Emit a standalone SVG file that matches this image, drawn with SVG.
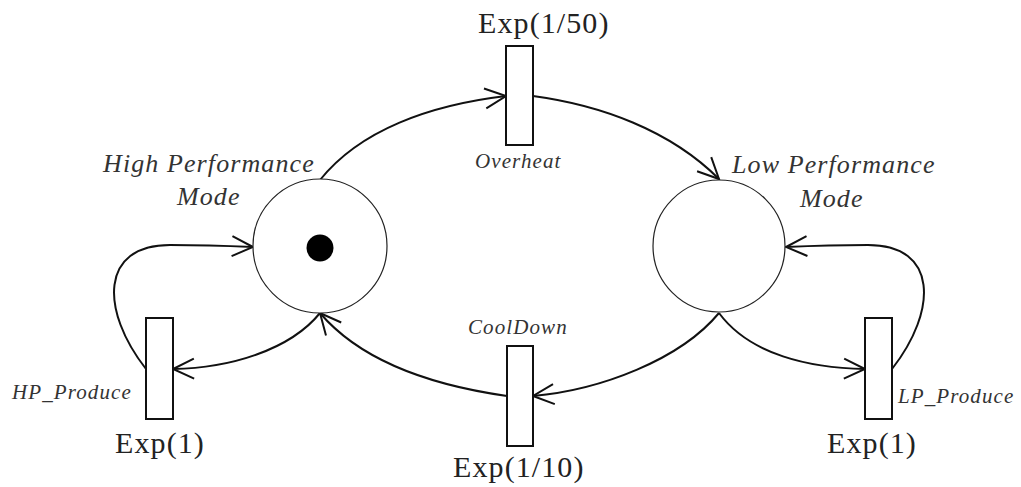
<svg xmlns="http://www.w3.org/2000/svg" width="1021" height="487" viewBox="0 0 1021 487">
<style>
.place{fill:#fff;stroke:#222;stroke-width:1.2}
.trans{fill:#fff;stroke:#111;stroke-width:2}
.arc{fill:none;stroke:#111;stroke-width:2}
.big{font-family:"Liberation Serif",serif;font-size:30px;fill:#222;letter-spacing:1.1px}
.pl{font-family:"Liberation Serif",serif;font-style:italic;font-size:26px;fill:#333;letter-spacing:1.1px}
.tl{font-family:"Liberation Serif",serif;font-style:italic;font-size:21px;fill:#333;letter-spacing:1.1px}
</style>
<defs>
<marker id="arr" markerUnits="userSpaceOnUse" markerWidth="26" markerHeight="24" refX="21" refY="10" orient="auto" viewBox="-2 -2 26 24">
<path d="M0,0 L21,10 L0,20" fill="none" stroke="#111" stroke-width="2"/>
</marker>
</defs>
<g id="connectors">
<path class="arc" d="M320,180 C360,130 430,105 506,96" marker-end="url(#arr)"/>
<path class="arc" d="M533,96 C600,105 670,130 719,179" marker-end="url(#arr)"/>
<path class="arc" d="M719,313 C680,360 600,390 533,396" marker-end="url(#arr)"/>
<path class="arc" d="M507,396 C430,385 360,360 320,313" marker-end="url(#arr)"/>
<path class="arc" d="M320,313 C290,350 230,368 173,369" marker-end="url(#arr)"/>
<path class="arc" d="M146,369 C100,310 100,245 170,245 C200,245 230,246 253,247" marker-end="url(#arr)"/>
<path class="arc" d="M719,313 C750,355 810,368 865,369" marker-end="url(#arr)"/>
<path class="arc" d="M892,369 C938,310 938,245 868,245 C838,245 808,246 786,247" marker-end="url(#arr)"/>
</g>
<g id="HighPerformanceMode">
<circle class="place" cx="320" cy="246" r="67"/>
<circle cx="320" cy="248" r="13.5" fill="#000"/>
<text class="pl" x="103" y="172">High Performance</text>
<text class="pl" x="177" y="205">Mode</text>
</g>
<g id="LowPerformanceMode">
<circle class="place" cx="719" cy="246" r="66"/>
<text class="pl" x="732" y="173">Low Performance</text>
<text class="pl" x="800" y="207">Mode</text>
</g>
<g id="Overheat">
<rect class="trans" x="506" y="46" width="27" height="99"/>
<text class="big" x="478" y="33">Exp(1/50)</text>
<text class="tl" x="475" y="168">Overheat</text>
</g>
<g id="CoolDown">
<rect class="trans" x="507" y="346" width="26" height="100"/>
<text class="tl" x="468" y="334">CoolDown</text>
<text class="big" x="453" y="477">Exp(1/10)</text>
</g>
<g id="HP_Produce">
<rect class="trans" x="146" y="318" width="27" height="101"/>
<text class="tl" x="12" y="399">HP_Produce</text>
<text class="big" x="115" y="453">Exp(1)</text>
</g>
<g id="LP_Produce">
<rect class="trans" x="865" y="318" width="27" height="101"/>
<text class="tl" x="898" y="403">LP_Produce</text>
<text class="big" x="827" y="453">Exp(1)</text>
</g>
</svg>
